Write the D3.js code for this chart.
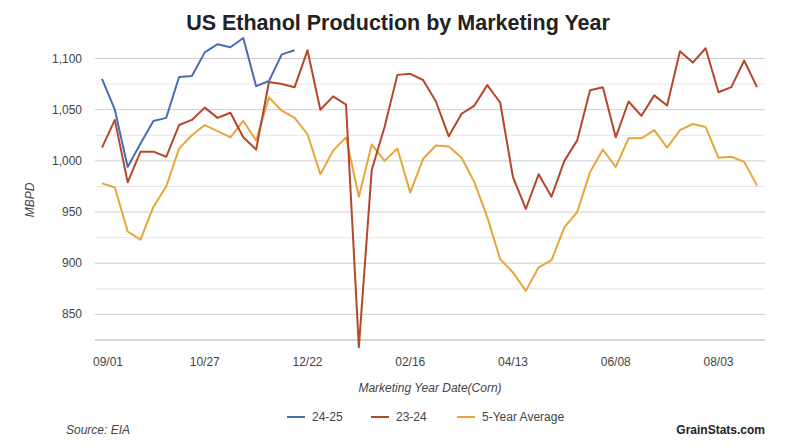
<!DOCTYPE html>
<html><head><meta charset="utf-8">
<script src="https://cdn.jsdelivr.net/npm/d3@7"></script>
<style>
body{margin:0;background:#fff;font-family:"Liberation Sans",Arial,sans-serif;}
</style></head>
<body><div id="chart"></div>
<script>
var tickWeeks = [0, 8, 16, 24, 32, 40, 48];
var tickLabels = ["09/01", "10/27", "12/22", "02/16", "04/13", "06/08", "08/03"];
var seriesNames = ["24-25", "23-24", "5-Year Average"];
var seriesColors = ["#4a6db4", "#b4472c", "#e6a63c"];

var y2425 = [1080, 1050, 994, 1017, 1039, 1042, 1082, 1083, 1106, 1114, 1111, 1120, 1073, 1078, 1104, 1108];
var y2324 = [1013, 1040, 979, 1009, 1009, 1004, 1035, 1040, 1052, 1042, 1047, 1023, 1011, 1077, 1075, 1072,
             1108, 1050, 1063, 1055, 818, 991, 1033, 1084, 1085, 1079, 1058, 1024, 1046, 1054, 1074, 1057,
             984, 953, 987, 965, 1000, 1020, 1069, 1072, 1023, 1058, 1044, 1064, 1054, 1107, 1096, 1110,
             1067, 1072, 1098, 1072];
var y5yr = [978, 974, 931, 923, 955, 975, 1012, 1025, 1035, 1029, 1023, 1039, 1020, 1062, 1049, 1042,
            1026, 987, 1010, 1023, 965, 1016, 1000, 1012, 969, 1002, 1015, 1014, 1003, 979, 945, 904,
            891, 873, 896, 903, 935, 950, 989, 1011, 994, 1022, 1022, 1030, 1013, 1030, 1036, 1033,
            1003, 1004, 999, 976];

function init(){
    var w = 785, h = 448;
    var svg = d3.select("#chart").append("svg").attr("width", w).attr("height", h);

    var x = d3.scaleLinear().domain([0, 51]).range([102, 757]);
    var y = d3.scaleLinear().domain([825, 1100]).range([340, 58.5]);

    // grid
    var grid = d3.range(825, 1101, 25);
    svg.selectAll(".grid").data(grid).enter().append("line")
        .attr("x1", 95).attr("x2", 765)
        .attr("y1", function(d){ return y(d); }).attr("y2", function(d){ return y(d); })
        .attr("stroke", function(d){ return d % 50 === 0 ? "#cfcfcf" : "#e6e6e6"; })
        .attr("stroke-width", 1);
    svg.append("line").attr("x1", 95).attr("x2", 765).attr("y1", y(825)).attr("y2", y(825))
        .attr("stroke", "#bbb");

    svg.selectAll(".yt").data(d3.range(850, 1101, 50)).enter().append("text")
        .attr("x", 82).attr("y", function(d){ return y(d) + 4; })
        .attr("text-anchor", "end").attr("font-size", 12).attr("fill", "#444")
        .text(d3.format(","));

    svg.selectAll(".xt").data(tickWeeks).enter().append("text")
        .attr("x", function(d, i){ return x(d) + (i === 0 ? 6 : 0); }).attr("y", 366)
        .attr("text-anchor", "middle").attr("font-size", 12).attr("fill", "#444")
        .text(function(d, i){ return tickLabels[i]; });

    var line = d3.line().x(function(d, i){ return x(i); }).y(function(d){ return y(d); });
    [y5yr, y2324, y2425].forEach(function(s, k){
        svg.append("path").datum(s).attr("d", line).attr("fill", "none")
            .attr("stroke", seriesColors[2 - k]).attr("stroke-width", 2)
            .attr("stroke-linejoin", "round");
    });

    svg.append("text").attr("x", 398).attr("y", 30).attr("text-anchor", "middle")
        .attr("font-size", 21.5).attr("font-weight", "bold").attr("fill", "#222")
        .text("US Ethanol Production by Marketing Year");
    svg.append("text").attr("transform", "translate(34,200) rotate(-90)")
        .attr("text-anchor", "middle").attr("font-size", 12).attr("font-style", "italic").attr("fill", "#444")
        .text("MBPD");
    svg.append("text").attr("x", 430).attr("y", 392).attr("text-anchor", "middle")
        .attr("font-size", 12).attr("font-style", "italic").attr("fill", "#444")
        .text("Marketing Year Date(Corn)");

    var lx = [287, 371, 457];
    seriesNames.forEach(function(n, i){
        svg.append("line").attr("x1", lx[i]).attr("x2", lx[i] + 18).attr("y1", 417).attr("y2", 417)
            .attr("stroke", seriesColors[i]).attr("stroke-width", 2);
        svg.append("text").attr("x", lx[i] + 25).attr("y", 421).attr("font-size", 12).attr("fill", "#444").text(n);
    });

    svg.append("text").attr("x", 66).attr("y", 434).attr("font-size", 12).attr("font-style", "italic")
        .attr("fill", "#444").text("Source: EIA");
    svg.append("text").attr("x", 765).attr("y", 434).attr("text-anchor", "end").attr("font-size", 12)
        .attr("font-weight", "bold").attr("fill", "#222").text("GrainStats.com");
}
window.onload = init;
</script></body></html>
